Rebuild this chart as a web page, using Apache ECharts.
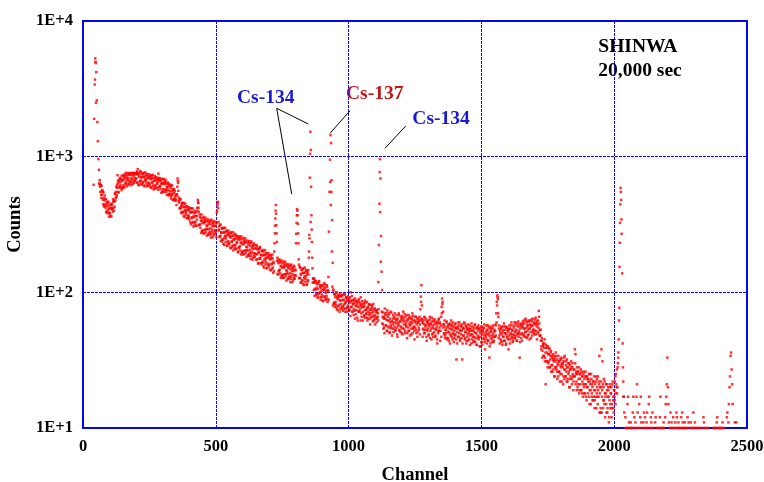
<!DOCTYPE html>
<html><head><meta charset="utf-8">
<script src="https://cdn.jsdelivr.net/npm/echarts@6/dist/echarts.min.js"></script>
<style>html,body{margin:0;padding:0;background:#fff}#c{width:764px;height:482px}</style>
</head><body><div id="c"></div>
<script>
// Counts, one value every 2 channels starting at the run's first channel.
const STEP = 2;
// even channels
const run0040 = [620,1900,3400,5300,4900,4200,2600,1800,1300,960, 800,640,600,620,523,610,524,551,445,495, 442,517,434,449,393,464,392,430,455,361];
const run0100 = [387,437,364,418,451,410,394,466,398,475, 535,475,551,505,618,730,666,546,651,601, 689,592,655,725,587, 669,614,737,601,699,737,646,724,604,696, 747,673,626,745,658,736,646,755,690,627, 754,726,663,750,691];
const run0200 = [740,641,773,810,750,623,712,655,780,667, 701,624,747,643,711,757,604,684,723,660, 739,608,701,632,744, 635,719,598,682,726,645,604,693,574,663, 719,607,670,584,685,632,699,750,660,601, 679,577,629,688,550];
const run0300 = [638,578,685,552,633,659,571,633,522,595, 632,563,518,627,531,588,511,616,534,481, 569,539,484,558,488, 515,440,524,690,640,500,459,416,489,416, 433,383,455,388,425,451,358,404,425,386, 431,353,405,363,425];
const run0400 = [357,415,328,387,416,354,326,389,305,358, 401,325,366,310,365,420,480,455,390,315, 361,299,336,375,282, 324,287,360,272,330,344,291,333,262,311, 334,291,265,340,279,317,268,343,290,254, 322,307,272,330,287];
const run0500 = [307,255,385,440,465,330,285,255,316,261, 275,237,297,244,275,297,224,261,277,249, 284,221,266,231,285, 233,272,214,253,275,236,217,261,204,244, 271,220,248,208,258,230,260,197,244,214, 251,204,231,258,196];
const run0600 = [226,201,252,192,232,241,203,233,183,215, 233,203,186,238,195,219,185,237,199,174, 220,209,185,224,193, 209,174,221,191,211,164,196,177,216,178, 187,162,202,165,187,200,152,177,188,168, 194,151,181,159,195];
const run0700 = [160,187,147,175,186,161,149,178,139,164, 200,272,350,440,313,235,180,135,164,145, 169,138,156,172,131, 152,135,169,128,153,162,136,156,122,144, 157,137,125,160,131,148,126,160,136,119, 150,143,127,154,133];
const run0800 = [145,230,325,410,370,272,175,127,154,127, 135,118,147,121,139,150,113,131,140,126, 145,114,137,120,146, 180,265,700,1525,1120,370,235,150,126,118, 127,94,118,121,105,97,116,91,106,121, 98,110,92,112,103];
const run0900 = [96,112,86,104,117,93,108,88,103,113, 90,104,130,280,550,950,1440,1260,670,340, 165,105,82,97,78, 92,81,100,75,90,95,79,93,72,87, 94,82,75,96,79,88,76,97,83,72, 91,86,77,93,80];
const run1000 = [76,90,74,84,100,78,86,72,82,88, 75,84,64,80,86,74,82,62,78,85, 72,80,76,92,70,78,82,72,78,66, 80,74,84,70,76,65,78,72,82,68, 74,64,76,70,80,66,72,62,75,68];
const run1100 = [58,72,66,74,64,70,119,223,450,960, 690,260,142,104,66,58,64,55,76,70, 57,63,52,74,66,56,62,50,60,72, 55,61,48,58,64,54,60,70,52,59, 63,55,47,60,57,68,52,61,56,63];
const run1200 = [50,64,54,72,58,62,50,66,57,61, 46,63,55,68,52,60,57,64,49,59, 70,54,62,56,45,60,66,53,58,64, 51,60,55,62,58,75,93,113,80,60, 54,62,50,58,65,53,57,44,60,54];
const run1300 = [62,48,56,66,52,58,45,61,55,50, 63,54,58,47,60,53,56,42,59,52, 64,55,60,52,66,78,90,85,72,58, 50,56,48,53,60,46,55,51,58,44, 54,49,57,62,47,53,50,56,43,52];
const run1400 = [58,48,54,32,51,55,47,60,50,53, 45,57,49,52,32,55,48,54,59,46, 51,56,44,53,49,58,50,45,54,48, 52,42,56,49,47,53,44,51,58,46, 50,41,55,48,52,45,54,40,50,47];
const run1500 = [56,43,49,52,46,55,48,38,51,45, 53,49,57,44,50,33,54,42,52,48, 45,55,49,43,51,47,52,58,70,85, 95,89,66,54,48,52,45,55,49,43, 51,47,56,44,50,53,41,49,55,46];
const run1600 = [51,38,48,54,45,50,57,47,52,43, 49,55,46,51,60,48,53,44,50,56, 47,52,33,54,49,58,50,56,61,48, 54,59,51,64,47,55,60,52,57,49, 62,54,58,46,56,63,51,57,53,60];
const run1700 = [49,58,65,52,56,61,50,55,73,59, 53,48,44,40,46,37,42,34,39,45, 33,21,41,31,36,40,30,35,38,28, 34,37,29,33,26,35,31,24,33,28, 36,27,32,23,30,34,26,31,22,29];
const run1800 = [33,25,30,28,21,31,27,34,24,29, 26,32,22,28,25,30,20,27,24,31, 23,28,25,19,27,24,38,35,25,22, 28,20,26,23,18,25,21,27,19,24, 22,17,25,20,23,18,26,21,16,24];
const run1900 = [20,22,17,25,19,21,15,23,18,20, 16,22,19,14,21,17,24,18,20,15, 19,22,34,18,13,20,38,17,31,14, 20,16,22,12,18,15,21,13,17,19, 11,16,20,14,18,12,15,22,17,13];
const run2000 = [19,16,24,18,21,27,20,30,36,62, 154,325,588,480,270,138,42,22,17,13, null,12,10,null,10,15,17,10,11,null, 10,11,10,null,10,13,17,10,12,null, 11,10,17,21,13,10,null,15,10,12];
const run2100 = [17,11,null,10,null,11,13,10,12,null, 10,11,13,10,null,15,17,10,null,12, 11,10,13,null,10,null,null,11,12,null, null,10,null,null,10,null,12,17,10,null, 10,null,10,11,10,null,12,15,17,21];
const run2200 = [33,20,15,11,10,null,13,10,11,null, 10,12,null,10,null,11,10,13,12,10, null,11,10,null,10,null,12,10,13,11, 10,null,10,11,null,10,null,10,12,null, 11,null,10,null,11,10,null,10,null,13];
const run2300 = [10,null,11,10,null,null,10,null,null,10, null,null,10,null,null,null,10,null,12,11, null,10,null,10,null,null,null,10,null,null, null,null,null,null,null,null,null,10,null,10, null,10,null,11,12,10,null,10,null,10];
const run2400 = [null,10,null,10,11,null,10,null,null,null, null,null,12,13,null,11,15,20,24,34, 36,27,21,15,null,null,null,11,null,null,11];
// odd channels
const run0061 = [627,671,550,617,497,561,567,482,546,429, 475,489,421,485,385,443,407,466,383,412];
const run0101 = [378,416,446,363,439,415,486,419,468,427, 532,496,596,521,592,636,548,671,592,698, 621,684,567,675,595, 717,589,679,710,634,759,627,691,666,759, 624,730,648,755,693,617,760,668,725,754, 642,760,691,663,747];
const run0201 = [690,773,646,743,616,720,754,661,771,625, 707,740,650,759,613,714,664,765,633,686, 738,608,713,644,702, 620,685,729,588,699,644,734,614,664,584, 699,619,707,590,645,674,570,687,596,693, 609,661,541,636,554];
const run0301 = [679,551,627,648,571,675,551,601,573,646, 525,607,533,613,557,491,608,521,559,574, 480,576,501,473,524, 477,528,600,660,560,468,483,418,483,388, 436,453,394,457,367,425,394,451,372,401, 429,352,411,370,401];
const run0401 = [344,390,417,317,392,357,415,330,367,311, 386,331,391,310,344,400,460,420,312,375, 317,354,275,337,284, 352,272,323,337,289,355,277,310,294,345, 267,320,274,330,296,254,334,279,308,322, 263,335,284,269,311];
const run0501 = [280,324,400,455,420,290,306,259,314,240, 277,294,247,299,228,277,252,299,236,260, 284,221,273,238,264, 226,257,276,211,261,238,278,222,247,210, 261,224,266,211,235,249,200,254,214,259, 219,245,190,234,198];
const run0601 = [246,190,227,237,203,250,194,217,205,241, 187,224,191,230,206,176,231,193,212,221, 180,229,194,183,212, 191,221,175,207,163,198,208,177,213,164, 189,201,168,204,156,189,172,205,161,178, 194,151,187,163,181];
const run0701 = [155,176,189,145,178,163,190,152,168,143, 230,310,400,380,272,170,137,172,143,175, 147,166,128,157,133, 165,128,153,159,136,168,131,145,138,162, 126,151,129,155,139,119,156,131,144,150, 123,157,134,126,147];
const run0801 = [133,270,370,400,320,230,160,128,152,118, 137,146,123,149,115,139,127,152,120,132, 145,114,141,123,135, 200,250,1050,330,600,290,180,118,126,104, 124,106,121,96,108,115,93,117,98,120, 100,113,88,108,92];
const run0901 = [113,87,104,108,93,114,89,99,94,110, 85,102,88,null,null,650,440,550,200,110, 80,103,84,83,96, 85,99,78,93,74,89,95,81,98,76, 87,93,78,95,73,88,81,96,76,84, 92,72,89,78,87];
const run1001 = [73,86,92,67,87,78,94,72,82,68, 88,73,90,69,79,85,65,87,72,89, 73,84,62,81,66, 86,62,78,83,68,87,65,74,69,85, 62,77,64,81,70,58,81,66,74,78, 61,82,67,63,76];
const run1101 = [64,74,60,71,66,62,75,null,770,390, 168,null,72,59,71,54,66,50,64,68, 57,71,52,62,68,55,70,51,64,57, 71,54,61,68,51,66,56,64,53,62, 68,49,64,58,70,53,61,51,66,55];
const run1201 = [67,49,61,65,54,69,52,59,56,68, 50,63,52,65,58,48,66,54,61,64, 50,67,55,52,62, 55,66,50,61,47,60,64,53,66,49, 62,85,64,63,47,59,53,66,50,56, 63,47,61,52,59];
const run1301 = [49,58,63,46,59,54,65,49,57,47, 61,51,63,48,54,59,45,61,50,63, 52,59,44,57,47, 70,82,55,58,49,62,46,53,50,61, 45,56,46,58,51,42,59,48,54,57, 45,60,49,46,55];
const run1401 = [49,59,45,55,42,54,57,47,60,44, 52,56,46,58,42,54,48,60,45,51, 57,42,55,47,54, 44,52,57,41,54,49,59,45,52,43, 55,47,57,43,50,54,41,55,46,57, 47,54,40,52,43];
const run1501 = [55,41,51,54,45,58,43,49,47,57, 42,52,44,55,48,40,56,46,51,54, 43,57,47,44,53, 47,57,48,60,80,92,70,46,57,42, 50,54,44,56,41,53,47,59,44,50, 56,42,55,47,53];
const run1601 = [45,53,57,42,54,49,60,46,53,44, 57,48,60,46,52,57,44,59,49,61, 50,58,43,56,46, 59,44,55,58,49,62,47,54,51,62, 46,57,48,61,54,45,62,51,57,61, 48,64,53,50,59];
const run1701 = [52,63,49,59,45,58,62,51,66,48, 48,53,38,44,33,40,41,34,42,31, 36,39,31,39,28,35,31,39,28,32, 36,26,34,29,32, 27,32,34,24,31,28,34,26,29,24, 31,26,32,25,28];
const run1801 = [32,22,29,30,24,33,23,27,24,31, 22,28,23,30,26,20,29,23,27,28, 21,30,24,22,27, 24,30,21,26,19,25,26,21,28,19, 23,25,19,26,18,24,21,26,18,21, 24,17,24,20,23];
const run1901 = [18,23,25,15,22,19,25,17,21,16, 22,17,24,16,19,22,14,23,17,24, 17,21,13,20,14, 22,13,19,21,16,23,15,18,17,21, 13,19,14,20,17,12,21,15,18,20, 14,21,16,14,19];
const run2001 = [17,22,15,25,20,18,28,33,45];
// Extra odd-channel points inside the narrow peaks: [channel, counts]
const oddChannelPoints = [[45,3700],[47,5000],[49,2500],
  [2019,77],[2021,232],[2023,445],[2025,550],[2027,345],[2033,28],[2035,17]];
const runList = [
  [40,run0040],[100,run0100],[200,run0200],[300,run0300],[400,run0400],[500,run0500],[600,run0600],[700,run0700],[800,run0800],[900,run0900],
  [1000,run1000],[1100,run1100],[1200,run1200],[1300,run1300],[1400,run1400],[1500,run1500],[1600,run1600],[1700,run1700],[1800,run1800],[1900,run1900],
  [2000,run2000],[2100,run2100],[2200,run2200],[2300,run2300],[2400,run2400],
  [61,run0061],[101,run0101],[201,run0201],[301,run0301],[401,run0401],[501,run0501],[601,run0601],[701,run0701],[801,run0801],[901,run0901],
  [1001,run1001],[1101,run1101],[1201,run1201],[1301,run1301],[1401,run1401],[1501,run1501],[1601,run1601],[1701,run1701],[1801,run1801],[1901,run1901],[2001,run2001]
];
const peakLabels = ['Cs-134','Cs-137','Cs-134'];
const infoLines = ['SHINWA','20,000 sec'];

const points = [];
runList.forEach(([start, arr]) => {
  arr.forEach((v, i) => { if (v != null) points.push([start + STEP * i, v]); });
});
oddChannelPoints.forEach(p => points.push(p));

const FONT = '"Liberation Serif","Times New Roman",serif';
const BLUE = '#0000e6';
const GRIDLINE = {show: true, lineStyle: {color: '#0a0aff', type: [3, 1], width: 1}};
const chart = echarts.init(document.getElementById('c'), null, {renderer: 'canvas'});
chart.setOption({
  animation: false,
  grid: {left: 83, right: 17, top: 21, bottom: 54, show: true, borderColor: BLUE, borderWidth: 2,
         backgroundColor: 'transparent', containLabel: false, outerBoundsMode: 'none'},
  xAxis: {
    type: 'value', min: 0, max: 2500, interval: 500,
    axisLine: {show: false}, axisTick: {show: false},
    splitLine: GRIDLINE,
    axisLabel: {color: '#000', fontFamily: FONT, fontWeight: 'bold', fontSize: 16.5, margin: 10,
      formatter: v => String(v)},
    name: 'Channel', nameLocation: 'middle', nameGap: 38,
    nameTextStyle: {color: '#000', fontFamily: FONT, fontWeight: 'bold', fontSize: 18.5}
  },
  yAxis: {
    type: 'log', logBase: 10, min: 10, max: 10000,
    axisLine: {show: false}, axisTick: {show: false}, minorTick: {show: false},
    splitLine: GRIDLINE,
    axisLabel: {color: '#000', fontFamily: FONT, fontWeight: 'bold', fontSize: 16.5, margin: 10,
      formatter: v => '1E+' + Math.round(Math.log10(v))},
    name: 'Counts', nameLocation: 'middle', nameRotate: 90, nameGap: 49,
    nameTextStyle: {color: '#000', fontFamily: FONT, fontWeight: 'bold', fontSize: 18.5}
  },
  series: [{
    type: 'scatter', data: points, symbol: 'rect', symbolSize: 2.5, silent: true,
    itemStyle: {color: '#ff0000'}, clip: true, large: false
  }],
  graphic: [
    {type: 'line', shape: {x1: 276.7, y1: 108.3, x2: 308.3, y2: 124}, style: {stroke: '#000', lineWidth: 1}},
    {type: 'line', shape: {x1: 276.7, y1: 108.3, x2: 291.7, y2: 194}, style: {stroke: '#000', lineWidth: 1}},
    {type: 'line', shape: {x1: 330, y1: 133.3, x2: 350, y2: 110.7}, style: {stroke: '#000', lineWidth: 1}},
    {type: 'line', shape: {x1: 385, y1: 148.3, x2: 405.7, y2: 126}, style: {stroke: '#000', lineWidth: 1}},
    {type: 'text', x: 265.7, y: 98, style: {text: peakLabels[0], fill: '#1a1ad0', font: 'bold 19.5px ' + FONT, align: 'center', verticalAlign: 'middle'}},
    {type: 'text', x: 374.7, y: 93.5, style: {text: peakLabels[1], fill: '#c41414', font: 'bold 19.5px ' + FONT, align: 'center', verticalAlign: 'middle'}},
    {type: 'text', x: 441, y: 119, style: {text: peakLabels[2], fill: '#1a1ad0', font: 'bold 19.5px ' + FONT, align: 'center', verticalAlign: 'middle'}},
    {type: 'text', x: 598.3, y: 47, style: {text: infoLines[0], fill: '#000', font: 'bold 19.5px ' + FONT, align: 'left', verticalAlign: 'middle'}},
    {type: 'text', x: 598.3, y: 70.5, style: {text: infoLines[1], fill: '#000', font: 'bold 19.5px ' + FONT, align: 'left', verticalAlign: 'middle'}}
  ]
});
</script></body></html>
